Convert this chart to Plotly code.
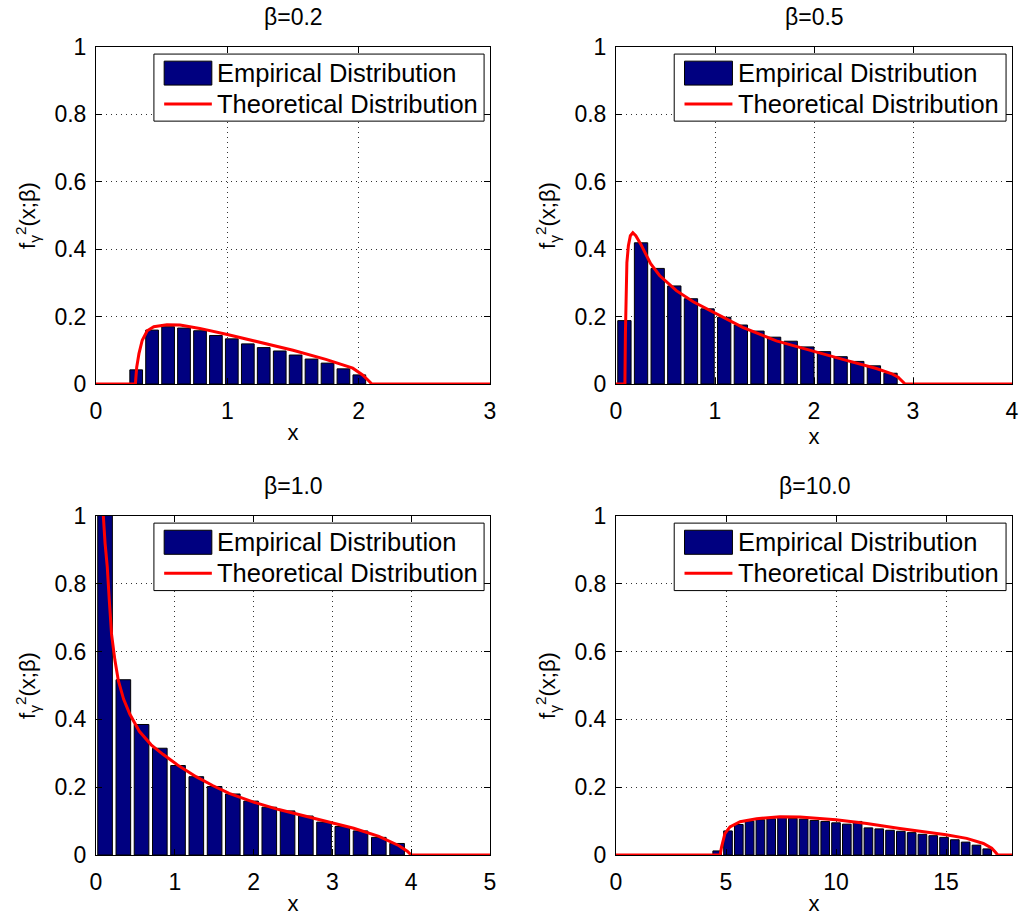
import plotly.graph_objects as go
from plotly.subplots import make_subplots

# ---------------- data ----------------
titles = ["β=0.2", "β=0.5", "β=1.0", "β=10.0"]
legend_labels = ["Empirical Distribution", "Theoretical Distribution"]
y_label = "f<sub>γ</sub><sup>2</sup>(x;β)"
x_label = "x"

y_ticks = [0, 0.2, 0.4, 0.6, 0.8, 1]
y_tick_text = ["0", "0.2", "0.4", "0.6", "0.8", "1"]

# beta = 0.2
b02_centers = [0.306, 0.427, 0.549, 0.670, 0.792, 0.913, 1.034, 1.156, 1.277, 1.399,
               1.520, 1.641, 1.763, 1.884, 2.005]
b02_values = [0.042, 0.160, 0.170, 0.166, 0.158, 0.144, 0.134, 0.119, 0.108, 0.098,
              0.086, 0.074, 0.062, 0.045, 0.027]
b02_curve_x = [0, 0.295, 0.30, 0.31, 0.327, 0.352, 0.39, 0.44, 0.54, 0.64, 0.79, 1.0,
               1.25, 1.5, 1.75, 1.955, 2.03, 2.06, 2.08, 2.10, 3.0]
b02_curve_y = [0, 0, 0.0, 0.05, 0.09, 0.13, 0.158, 0.170, 0.176, 0.175, 0.165, 0.147,
               0.124, 0.100, 0.073, 0.047, 0.027, 0.017, 0.008, 0, 0]
b02_xticks = [0, 1, 2, 3]

# beta = 0.5
b05_centers = [0.085, 0.253, 0.421, 0.589, 0.757, 0.925, 1.093, 1.261, 1.429, 1.597,
               1.765, 1.933, 2.101, 2.269, 2.437, 2.605, 2.773]
b05_values = [0.188, 0.419, 0.343, 0.291, 0.253, 0.223, 0.198, 0.175, 0.157, 0.139,
              0.127, 0.110, 0.096, 0.081, 0.067, 0.054, 0.032]
b05_curve_x = [0, 0.09, 0.095, 0.10, 0.11, 0.125, 0.145, 0.17, 0.20, 0.25, 0.30, 0.35,
               0.44, 0.61, 0.78, 1.0, 1.28, 1.62, 2.0, 2.29, 2.63, 2.78, 2.85, 2.89,
               2.92, 4.0]
b05_curve_y = [0, 0, 0.15, 0.28, 0.36, 0.41, 0.44, 0.449, 0.44, 0.415, 0.385, 0.357,
               0.322, 0.277, 0.244, 0.210, 0.168, 0.128, 0.096, 0.073, 0.046, 0.031,
               0.020, 0.009, 0, 0]
b05_xticks = [0, 1, 2, 3, 4]

# beta = 1.0
b10_centers = [0.115, 0.347, 0.578, 0.810, 1.041, 1.273, 1.505, 1.736, 1.968, 2.199,
               2.431, 2.663, 2.894, 3.126, 3.357, 3.589, 3.821]
b10_values = [1.35, 0.517, 0.385, 0.315, 0.264, 0.231, 0.202, 0.180, 0.159, 0.141,
              0.130, 0.115, 0.097, 0.084, 0.071, 0.052, 0.034]
b10_curve_x = [0.06, 0.093, 0.115, 0.143, 0.169, 0.198, 0.24, 0.283, 0.35, 0.43, 0.55,
               0.7, 0.85, 1.05, 1.27, 1.48, 1.69, 2.0, 2.32, 2.74, 3.04, 3.27, 3.59,
               3.84, 3.95, 4.0, 5.0]
b10_curve_y = [1.22, 1.0, 0.92, 0.85, 0.75, 0.65, 0.575, 0.515, 0.46, 0.415, 0.365,
               0.325, 0.297, 0.263, 0.231, 0.205, 0.182, 0.156, 0.134, 0.11, 0.093,
               0.079, 0.055, 0.028, 0.011, 0, 0]
b10_xticks = [0, 1, 2, 3, 4, 5]

# beta = 10.0
b100_centers = [4.600, 5.091, 5.582, 6.073, 6.564, 7.055, 7.546, 8.037, 8.528, 9.019,
                9.510, 10.001, 10.492, 10.983, 11.474, 11.965, 12.456, 12.947, 13.438,
                13.929, 14.420, 14.911, 15.402, 15.893, 16.384, 16.875]
b100_values = [0.012, 0.071, 0.090, 0.100, 0.104, 0.107, 0.112, 0.108, 0.106, 0.102,
               0.099, 0.095, 0.091, 0.099, 0.080, 0.077, 0.073, 0.070, 0.066, 0.061,
               0.057, 0.052, 0.045, 0.038, 0.029, 0.018]
b100_curve_x = [0, 4.73, 4.80, 4.95, 5.18, 5.64, 6.39, 7.45, 8.36, 10.0, 11.4, 12.9,
                15.0, 15.94, 16.7, 17.08, 17.25, 17.35, 18]
b100_curve_y = [0, 0, 0.024, 0.063, 0.083, 0.098, 0.107, 0.113, 0.112, 0.104, 0.093,
                0.078, 0.060, 0.049, 0.034, 0.020, 0.008, 0, 0]
b100_xticks = [0, 5, 10, 15]

x_ranges = [[0, 3], [0, 4], [0, 5], [0, 18]]

panels = [
    (b02_centers, b02_values, b02_curve_x, b02_curve_y, b02_xticks),
    (b05_centers, b05_values, b05_curve_x, b05_curve_y, b05_xticks),
    (b10_centers, b10_values, b10_curve_x, b10_curve_y, b10_xticks),
    (b100_centers, b100_values, b100_curve_x, b100_curve_y, b100_xticks),
]

# ---------------- styling ----------------
FONT = "Liberation Sans, Arial, Helvetica, sans-serif"
NAVY = "#000080"
RED = "#ff0000"
W, H = 1020, 916

x_domains = [[96 / W, 490 / W], [616 / W, 1012 / W]]
y_domains = [[1 - 855 / H, 1 - 516 / H], [1 - 384 / H, 1 - 47 / H]]

fig = make_subplots(rows=2, cols=2)

shapes = []
annotations = []
for i, (cen, val, cx, cy, xt) in enumerate(panels):
    r, c = divmod(i, 2)
    bw = 0.8 * (cen[1] - cen[0])
    fig.add_trace(go.Bar(x=cen, y=val, width=bw,
                         marker=dict(color=NAVY, line=dict(color="black", width=1)),
                         showlegend=False, name=legend_labels[0]),
                  row=r + 1, col=c + 1)
    fig.add_trace(go.Scatter(x=cx, y=cy, mode="lines",
                             line=dict(color=RED, width=3),
                             showlegend=False, name=legend_labels[1]),
                  row=r + 1, col=c + 1)

    n = i + 1
    xa = "xaxis" if n == 1 else f"xaxis{n}"
    ya = "yaxis" if n == 1 else f"yaxis{n}"
    axis_common = dict(showline=True, linecolor="black", linewidth=1, mirror="ticks",
                       ticks="inside", ticklen=6, tickcolor="black",
                       showgrid=True, gridcolor="#333333", griddash="1px,4px", gridwidth=1,
                       zeroline=False, automargin=False,
                       tickfont=dict(family=FONT, size=23, color="black"))
    fig.layout[xa].update(domain=x_domains[c], range=x_ranges[i], tickvals=xt,
                          ticklabelstandoff=6,
                          title=dict(text=x_label, font=dict(family=FONT, size=22, color="black"),
                                     standoff=2),
                          **axis_common)
    fig.layout[ya].update(domain=y_domains[1 - r], range=[0, 1], tickvals=y_ticks,
                          ticktext=y_tick_text, ticklabelstandoff=4,
                          title=dict(text=y_label, font=dict(family=FONT, size=22, color="black"),
                                     standoff=12),
                          **axis_common)

    xref = "x domain" if n == 1 else f"x{n} domain"
    yref = "y domain" if n == 1 else f"y{n} domain"
    # subplot title
    annotations.append(dict(text=titles[i], xref=xref, yref=yref, x=0.5, y=1,
                            xanchor="center", yanchor="bottom", yshift=15, showarrow=False,
                            font=dict(family=FONT, size=23, color="black")))
    # legend box
    shapes.append(dict(type="rect", xref=xref, yref=yref, x0=0.147, x1=0.985,
                       y0=0.780, y1=0.979, fillcolor="white",
                       line=dict(color="black", width=1), layer="above"))
    shapes.append(dict(type="rect", xref=xref, yref=yref, x0=0.173, x1=0.294,
                       y0=0.887, y1=0.958, fillcolor=NAVY,
                       line=dict(color="black", width=1), layer="above"))
    shapes.append(dict(type="line", xref=xref, yref=yref, x0=0.173, x1=0.294,
                       y0=0.831, y1=0.831, line=dict(color=RED, width=3), layer="above"))
    annotations.append(dict(text=legend_labels[0], xref=xref, yref=yref, x=0.302, y=0.923,
                            xanchor="left", yanchor="middle", showarrow=False,
                            font=dict(family=FONT, size=25.5, color="black")))
    annotations.append(dict(text=legend_labels[1], xref=xref, yref=yref, x=0.302, y=0.831,
                            xanchor="left", yanchor="middle", showarrow=False,
                            font=dict(family=FONT, size=25.5, color="black")))

fig.update_layout(width=W, height=H, margin=dict(l=0, r=0, t=0, b=0, autoexpand=False),
                  paper_bgcolor="white", plot_bgcolor="white",
                  barmode="overlay", shapes=shapes, annotations=annotations,
                  font=dict(family=FONT, color="black"))

fig.write_html("out.html", config={"displayModeBar": False},
               post_script="document.body.style.margin='0';document.body.style.overflow='hidden';")
